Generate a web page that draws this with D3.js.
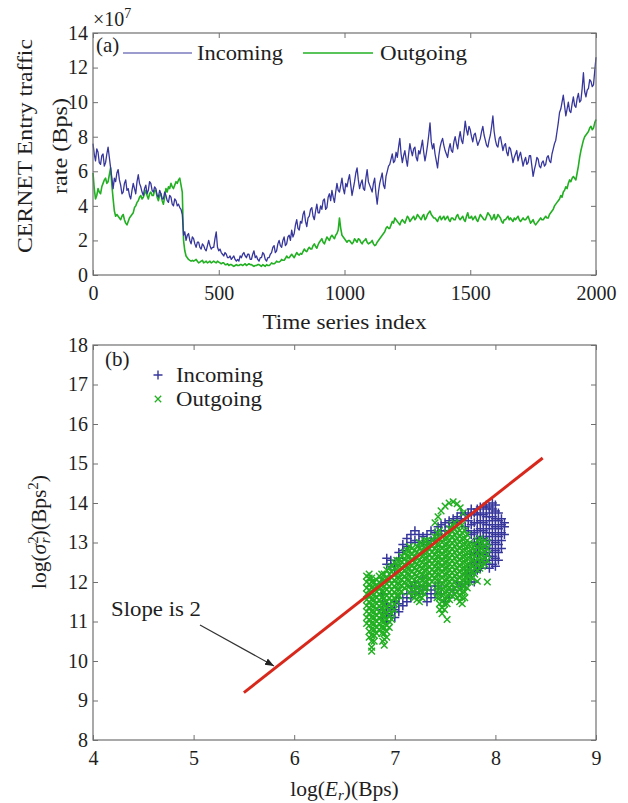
<!DOCTYPE html>
<html><head><meta charset="utf-8">
<script src="https://cdn.jsdelivr.net/npm/d3@7"></script>
</head><body style="margin:0;background:#fff">
<svg id="c" width="628" height="803" style="display:block;font-family:'Liberation Serif'"></svg>
<script>
// ---------------- DATA ----------------
const timeTicks = [0, 500, 1000, 1500, 2000];
const rateTicks = [0, 2, 4, 6, 8, 10, 12, 14];
const timeStep = 5; // one reading every 5 samples
// traffic rate in units of 1e7 Bps
const incomingRate = [
 7.6,7.0,6.6,7.3,7.1,6.5,6.4,6.9,7.0,6.3,6.5,7.0,7.4,6.8,6.2,5.6,5.0,5.6,5.4,5.9,
 6.1,5.5,5.2,4.7,4.8,5.3,5.5,4.9,5.0,4.6,4.4,4.9,5.3,5.0,4.7,5.4,5.8,5.3,5.1,4.8,
 4.6,5.0,5.2,4.7,4.9,5.4,5.3,4.9,4.8,5.1,5.0,4.6,4.5,4.9,4.7,4.4,4.4,4.8,4.6,4.3,
 4.2,4.6,4.5,4.1,4.0,4.4,4.3,4.0,4.1,3.9,3.8,3.5,2.3,2.5,2.0,2.3,2.4,2.0,1.8,2.2,
 2.1,1.8,1.6,1.9,1.9,1.6,1.5,1.8,1.7,1.5,1.4,1.7,2.0,1.7,1.5,1.6,1.6,2.1,2.5,1.6,
 1.4,1.5,1.3,1.2,1.1,1.3,1.2,1.0,1.0,1.1,0.9,1.0,1.1,0.9,0.8,0.9,0.8,1.1,1.0,1.2,
 1.3,1.1,1.0,1.2,1.2,0.9,0.9,1.2,1.4,1.0,1.1,0.9,0.8,1.0,1.0,1.3,1.2,0.9,0.8,1.0,
 1.0,1.2,1.3,1.6,1.7,1.3,1.4,1.8,2.0,1.7,1.6,2.0,2.2,1.7,1.8,2.2,2.3,2.0,2.6,2.2,
 2.4,2.9,3.2,2.7,2.6,3.1,3.0,3.5,3.7,3.1,2.8,3.3,3.4,3.8,3.9,3.4,3.2,3.7,4.1,3.6,
 3.6,4.0,3.8,4.3,4.4,3.8,3.9,4.5,4.7,4.3,4.9,4.5,4.2,4.8,5.3,4.9,4.8,5.2,5.6,5.0,
 4.7,5.3,5.1,5.5,5.8,5.2,4.6,5.0,5.4,5.9,6.2,5.5,5.0,5.3,5.5,5.0,4.9,5.6,6.1,5.4,
 5.2,5.0,4.8,5.3,5.6,4.7,4.1,4.8,5.3,5.6,5.9,5.2,5.0,5.7,6.0,6.3,6.4,6.7,7.0,6.5,
 6.6,7.1,6.8,7.4,7.9,7.0,6.5,6.9,7.2,6.7,6.3,7.0,7.6,7.2,6.9,7.3,7.4,6.8,6.6,7.2,
 7.0,7.4,7.8,7.1,6.6,7.0,7.5,8.1,8.8,7.7,7.3,7.6,7.0,6.6,6.2,6.9,7.4,7.7,7.9,7.5,
 7.2,7.0,6.8,7.3,7.6,7.2,7.1,7.7,8.0,7.6,7.3,7.9,8.3,7.8,7.6,8.2,8.9,8.4,8.1,8.6,
 8.4,8.0,7.7,8.1,8.2,7.8,7.5,7.7,7.9,8.3,8.6,8.1,7.8,7.5,7.4,7.8,8.1,8.6,9.2,8.3,
 7.8,7.5,7.4,7.9,8.0,7.6,7.2,7.5,7.6,7.1,6.9,7.4,7.3,6.9,6.5,6.8,7.0,7.2,6.6,6.9,
 7.1,6.7,6.3,6.6,6.8,6.4,6.5,6.9,6.9,6.3,5.7,6.1,6.4,6.8,6.7,6.3,6.2,6.5,6.6,6.3,
 6.4,6.8,6.9,6.6,6.5,7.0,7.3,7.6,7.8,8.3,8.8,9.4,9.6,10.0,10.4,9.8,9.2,9.6,10.0,9.5,
 9.4,9.9,10.3,9.8,9.7,10.2,10.5,10.0,10.1,10.8,11.7,10.6,10.3,10.7,10.8,11.3,11.2,10.9,11.0,11.8,
 12.6
];
const outgoingRate = [
 5.9,5.0,4.4,4.6,5.0,4.8,4.7,5.1,5.3,5.5,5.6,5.3,5.4,5.8,6.2,5.2,4.4,3.7,3.4,3.5,
 3.4,3.3,3.2,3.4,3.5,3.2,3.0,2.9,3.1,3.3,3.4,3.5,3.6,3.9,4.0,4.2,4.3,4.5,4.6,4.4,
 4.5,4.7,4.9,4.6,4.4,4.7,4.8,4.6,4.6,4.9,4.9,4.5,4.3,4.6,4.7,4.3,4.1,4.5,5.0,4.8,
 5.1,5.0,5.3,5.1,5.0,5.2,5.4,5.3,5.5,5.6,5.2,4.8,2.0,1.4,1.1,1.0,0.9,0.85,0.8,0.85,
 0.8,0.85,0.9,0.8,0.7,0.75,0.8,0.85,0.7,0.75,0.8,0.7,0.75,0.8,0.7,0.75,0.8,0.75,0.7,0.8,
 0.75,0.7,0.65,0.7,0.7,0.6,0.6,0.65,0.55,0.6,0.6,0.55,0.5,0.55,0.6,0.55,0.55,0.6,0.6,0.55,
 0.6,0.65,0.55,0.6,0.65,0.6,0.6,0.55,0.5,0.55,0.55,0.6,0.6,0.55,0.5,0.6,0.55,0.5,0.6,0.55,
 0.55,0.6,0.7,0.65,0.65,0.7,0.8,0.75,0.75,0.8,0.9,0.85,0.85,0.95,1.1,1.0,1.0,1.1,1.2,1.1,
 1.0,1.15,1.3,1.2,1.15,1.25,1.2,1.35,1.5,1.4,1.35,1.5,1.6,1.5,1.5,1.7,1.8,1.65,1.55,1.75,
 1.9,2.0,2.1,1.9,1.8,2.0,2.2,2.1,2.0,2.2,2.3,2.2,2.1,2.3,2.4,2.6,3.3,2.7,2.3,2.2,
 2.1,2.0,1.9,2.0,2.0,1.9,1.8,1.9,2.1,2.0,1.9,2.1,2.05,1.9,1.8,1.95,2.0,2.1,1.9,1.8,
 1.85,1.9,2.0,1.8,1.7,1.75,1.9,2.0,2.1,2.2,2.3,2.4,2.5,2.7,2.8,2.7,2.7,2.9,3.1,3.0,
 3.3,3.2,3.1,3.0,2.9,3.1,3.2,3.1,3.0,3.2,3.4,3.3,3.1,3.2,3.3,3.4,3.2,3.3,3.5,3.4,
 3.3,3.2,3.4,3.5,3.2,3.3,3.5,3.6,3.7,3.5,3.4,3.3,3.3,3.2,3.1,3.3,3.4,3.2,3.3,3.4,
 3.2,3.3,3.4,3.2,3.1,3.3,3.3,3.2,3.2,3.4,3.5,3.3,3.2,3.3,3.4,3.2,3.1,3.4,3.6,3.3,
 3.3,3.4,3.2,3.3,3.4,3.2,3.1,3.3,3.5,3.4,3.3,3.2,3.2,3.4,3.6,3.5,3.4,3.2,3.3,3.5,
 3.2,3.3,3.5,3.4,3.3,3.1,3.0,3.2,3.2,3.3,3.4,3.2,3.3,3.2,3.1,3.3,3.2,3.3,3.4,3.2,
 3.1,3.2,3.3,3.2,3.2,3.3,3.4,3.2,3.0,3.1,3.2,3.0,2.9,3.0,3.1,3.2,3.3,3.2,3.2,3.3,
 3.4,3.3,3.3,3.5,3.6,3.7,3.8,4.0,4.1,4.2,4.3,4.4,4.6,4.5,4.8,4.9,5.1,5.0,5.3,5.5,
 5.4,5.6,5.7,5.6,5.5,5.9,6.3,6.8,7.2,7.5,7.8,8.0,8.1,8.2,8.3,8.5,8.6,8.4,8.5,8.8,
 9.0
];

const logETicks = [4, 5, 6, 7, 8, 9];
const logVarTicks = [8, 9, 10, 11, 12, 13, 14, 15, 16, 17, 18];
// scatter read as vertical streaks: [log(E), [log(var) values...]]
const incomingScatter = [
 [6.88,[11.1,11.3,11.5,11.7,12.0]],
 [6.92,[11.0,11.2,11.45,12.45,12.6]],
 [6.96,[11.15,11.35,12.4,12.55]],
 [7.00,[11.1,11.3,11.5,12.3,12.45]],
 [7.04,[11.25,11.45,11.6,12.6,12.75]],
 [7.08,[11.4,11.6,12.8,12.95]],
 [7.12,[11.5,11.7,12.9,13.1]],
 [7.16,[11.6,11.9,13.0,13.2]],
 [7.20,[11.75,12.0,13.05,13.3]],
 [7.24,[11.7,11.9,13.0,13.2]],
 [7.28,[11.8,12.1,13.0,13.15]],
 [7.32,[11.5,11.7,11.9,12.95,13.2]],
 [7.36,[11.6,11.8,13.05,13.3]],
 [7.40,[11.7,11.9,13.1,13.25]],
 [7.43,[11.9,13.2,13.4]],
 [7.46,[11.7,13.3,13.45]],
 [7.50,[11.5,13.3,13.5]],
 [7.54,[11.6,13.4,13.55]],
 [7.58,[11.8,13.5,13.6]],
 [7.62,[12.0,13.55,13.65]],
 [7.66,[11.9,13.6,13.75]],
 [7.70,[11.95,12.2,13.4,13.7]],
 [7.73,[12.0,12.3,13.3,13.55,13.75]],
 [7.76,[12.2,12.45,12.7,13.2,13.45,13.7,13.85]],
 [7.79,[12.0,12.25,12.5,12.75,13.0,13.25,13.5,13.75]],
 [7.82,[12.3,12.5,12.7,12.9,13.1,13.3,13.5,13.7,13.85]],
 [7.85,[12.35,12.55,12.75,12.95,13.15,13.35,13.55,13.75,13.9]],
 [7.88,[12.5,12.7,12.9,13.1,13.3,13.5,13.7,13.9]],
 [7.91,[12.45,12.65,12.85,13.05,13.25,13.45,13.65,13.85,13.95]],
 [7.94,[12.35,12.55,12.75,12.95,13.15,13.35,13.55,13.75,13.9]],
 [7.97,[12.45,12.65,12.85,13.05,13.25,13.45,13.65,13.85,14.0]],
 [8.00,[12.4,12.6,12.8,13.0,13.2,13.4,13.6,13.8,13.95]],
 [8.03,[12.55,12.75,12.95,13.15,13.35,13.55,13.75]],
 [8.06,[12.85,13.05,13.25,13.45,13.6]],
 [8.09,[13.2,13.4,13.5]]
];
const outgoingScatter = [
 [6.720,[10.95,11.1,11.25,11.4,11.55,11.7,11.85,12.0,12.15]],
 [6.745,[10.6,10.75,10.9,11.05,11.2,11.35,11.5,11.65,11.8,11.95,12.1,12.2]],
 [6.770,[10.35,10.5,10.65,10.8,10.95,11.1,11.25,11.4,11.55,11.7,11.85,12.0,12.1]],
 [6.795,[10.5,10.65,10.8,10.95,11.1,11.25,11.4,11.55,11.7,11.85,12.0]],
 [6.820,[10.7,10.85,11.0,11.15,11.3,11.45,11.6,11.75,11.9,12.05]],
 [6.845,[10.8,10.95,11.1,11.25,11.4,11.55,11.7,11.85,12.0,12.15]],
 [6.870,[10.7,10.85,11.0,11.15,11.3,11.45,11.6,11.75,11.9,12.05,12.2]],
 [6.895,[10.4,10.55,10.7,10.85,11.0,11.15,11.3,11.45,11.6,11.75,11.9,12.05,12.2]],
 [6.920,[10.6,10.75,10.9,11.05,11.2,11.35,11.5,11.65,11.8,11.95,12.1,12.3]],
 [6.945,[10.85,11.0,11.15,11.3,11.45,11.6,11.75,11.9,12.05,12.2,12.35]],
 [6.970,[11.05,11.2,11.35,11.5,11.65,11.8,11.95,12.1,12.25,12.4]],
 [6.995,[11.3,11.45,11.6,11.75,11.9,12.05,12.2,12.35,12.5]],
 [7.020,[11.5,11.65,11.8,11.95,12.1,12.25,12.4,12.55]],
 [7.045,[11.65,11.8,11.95,12.1,12.25,12.4,12.55]],
 [7.070,[11.75,11.9,12.05,12.2,12.35,12.5,12.65]],
 [7.095,[11.85,12.0,12.15,12.3,12.45,12.6,12.75]],
 [7.120,[11.9,12.05,12.2,12.35,12.5,12.65,12.8]],
 [7.145,[11.75,11.9,12.05,12.2,12.35,12.5,12.65,12.8,12.9]],
 [7.170,[11.65,11.8,11.95,12.1,12.25,12.4,12.55,12.7,12.85]],
 [7.195,[11.6,11.75,11.9,12.05,12.2,12.35,12.5,12.65,12.8]],
 [7.220,[11.55,11.7,11.85,12.0,12.15,12.3,12.45,12.6,12.75,12.9]],
 [7.245,[11.5,11.65,11.8,11.95,12.1,12.25,12.4,12.55,12.7,12.85,13.0]],
 [7.270,[11.6,11.75,11.9,12.05,12.2,12.35,12.5,12.65,12.8,12.95]],
 [7.295,[11.7,11.85,12.0,12.15,12.3,12.45,12.6,12.75,12.9,13.05]],
 [7.320,[11.85,12.0,12.15,12.3,12.45,12.6,12.75,12.9,13.05]],
 [7.345,[11.95,12.1,12.25,12.4,12.55,12.7,12.85,13.0]],
 [7.370,[12.0,12.15,12.3,12.45,12.6,12.75,12.9,13.05]],
 [7.395,[12.1,12.25,12.4,12.55,12.7,12.85,13.0,13.15]],
 [7.420,[11.6,11.75,11.9,12.05,12.2,12.35,12.5,12.65,12.8,12.95,13.1,13.25]],
 [7.445,[11.3,11.45,11.6,11.75,11.9,12.05,12.2,12.35,12.5,12.65,12.8,12.95,13.1,13.3]],
 [7.470,[11.2,11.35,11.5,11.65,11.8,11.95,12.1,12.25,12.4,12.55,12.7,12.85,13.0,13.15]],
 [7.495,[11.3,11.45,11.6,11.75,11.9,12.05,12.2,12.35,12.5,12.65,12.8,12.95,13.1]],
 [7.520,[11.45,11.6,11.75,11.9,12.05,12.2,12.35,12.5,12.65,12.8,12.95,13.1,13.25]],
 [7.545,[11.55,11.7,11.85,12.0,12.15,12.3,12.45,12.6,12.75,12.9,13.05,13.2,13.35]],
 [7.570,[11.65,11.8,11.95,12.1,12.25,12.4,12.55,12.7,12.85,13.0,13.15,13.3,13.45]],
 [7.595,[11.7,11.85,12.0,12.15,12.3,12.45,12.6,12.75,12.9,13.05,13.2,13.35,13.5]],
 [7.620,[11.6,11.75,11.9,12.05,12.2,12.35,12.5,12.65,12.8,12.95,13.1,13.25,13.4]],
 [7.645,[11.5,11.65,11.8,11.95,12.1,12.25,12.4,12.55,12.7,12.85,13.0,13.15,13.3,13.5]],
 [7.670,[11.45,11.6,11.75,11.9,12.05,12.2,12.35,12.5,12.65,12.8,12.95,13.1,13.25,13.45]],
 [7.695,[11.6,11.75,11.9,12.05,12.2,12.35,12.5,12.65,12.8,12.95,13.1,13.3]],
 [7.720,[11.85,12.0,12.15,12.3,12.45,12.6,12.75,12.9,13.05,13.2]],
 [7.745,[12.0,12.15,12.3,12.45,12.6,12.75,12.9,13.0]],
 [7.770,[12.1,12.25,12.4,12.55,12.7,12.85]],
 [7.795,[12.2,12.35,12.5,12.65,12.8,12.95]],
 [7.820,[12.3,12.45,12.6,12.75,12.9,13.05]],
 [7.845,[12.35,12.5,12.65,12.8,12.95,13.1]],
 [7.870,[12.4,12.55,12.7,12.85,13.0]],
 [7.895,[12.45,12.6,12.75,12.9,13.05]],
 [7.920,[12.55,12.7,12.85,13.0]]
];
const outgoingSingles = [
 [7.40,13.5],[7.43,13.65],[7.46,13.8],[7.50,13.92],[7.54,14.0],[7.58,14.03],[7.62,13.98],[7.65,13.88],[7.68,13.75],
 [7.52,11.05],[7.82,12.02],[7.92,12.0],[6.77,10.25],[6.88,10.5]
];
const slopeLine = [[5.5, 9.2], [8.47, 15.14]];

// ---------------- STYLE ----------------
const FONT = "'Liberation Serif'";
const TXT = "#1e1e1e";
const blue = "#36369c", green = "#22b022", red = "#d8281c", frameCol = "#707070";
const svg = d3.select("#c");

function label(sel, size) {
  return sel.style("font-family", FONT).style("font-size", size + "px").attr("fill", TXT);
}
// stretch Liberation Serif text to the width the Computer Modern text occupies
function fit(sel, w) {
  return sel.attr("textLength", w).attr("lengthAdjust", "spacingAndGlyphs");
}

function frameAxes(g, x, y, xt, yt, w, h) {
  g.append("rect").attr("x",0).attr("y",0).attr("width",w).attr("height",h)
    .attr("fill","none").attr("stroke",frameCol).attr("stroke-width",1.2);
  const styleAx = s => { s.attr("font-family",null).attr("font-size",null);
    s.select(".domain").remove();
    s.selectAll(".tick line").attr("stroke",frameCol);
    s.selectAll(".tick text").call(label, 20); };
  const fmt = d3.format("d");
  g.append("g").attr("transform",`translate(0,${h})`)
    .call(d3.axisBottom(x).tickValues(xt).tickFormat(fmt).tickSize(-5).tickPadding(11)).call(styleAx);
  g.append("g").call(d3.axisLeft(y).tickValues(yt).tickFormat(fmt).tickSize(-5).tickPadding(5)).call(styleAx);
  g.append("g").call(d3.axisTop(x).tickValues(xt).tickSize(-5).tickFormat("")).call(styleAx);
  g.append("g").attr("transform",`translate(${w},0)`)
    .call(d3.axisRight(y).tickValues(yt).tickSize(-5).tickFormat("")).call(styleAx);
}

// ---------------- PANEL (a) ----------------
const A = {l:93, t:33, w:503, h:242};
const ga = svg.append("g").attr("transform",`translate(${A.l},${A.t})`);
const xa = d3.scaleLinear().domain([0,2000]).range([0,A.w]);
const ya = d3.scaleLinear().domain([0,14]).range([A.h,0]);
const lineA = d3.line().x((d,i)=>xa(i*timeStep)).y(d=>ya(d));
ga.append("path").datum(outgoingRate).attr("d",lineA).attr("fill","none")
  .attr("stroke",green).attr("stroke-width",1.6).attr("stroke-linejoin","round");
ga.append("path").datum(incomingRate).attr("d",lineA).attr("fill","none")
  .attr("stroke",blue).attr("stroke-width",1.3).attr("stroke-linejoin","round");
frameAxes(ga, xa, ya, timeTicks, rateTicks, A.w, A.h);

// legend (a)
ga.append("text").attr("x",3).attr("y",19).call(label,21).text("(a)");
ga.append("line").attr("x1",30).attr("x2",99).attr("y1",20).attr("y2",20).attr("stroke","#7b7bbf").attr("stroke-width",1.3);
ga.append("text").attr("x",104).attr("y",27).call(label,21).call(fit,86).text("Incoming");
ga.append("line").attr("x1",210).attr("x2",280).attr("y1",20).attr("y2",20).attr("stroke",green).attr("stroke-width",1.6);
ga.append("text").attr("x",287).attr("y",27).call(label,21).call(fit,87).text("Outgoing");

// exponent
const ex = svg.append("text").attr("x",93).attr("y",26).call(label,20);
ex.append("tspan").text("×10");
ex.append("tspan").attr("dy",-8).style("font-size","14px").text("7");

svg.append("text").attr("x",A.l+A.w/2).attr("y",329).attr("text-anchor","middle").call(label,21).call(fit,164).text("Time series index");
svg.append("text").attr("transform",`translate(32,146) rotate(-90)`).attr("text-anchor","middle")
  .call(label,21).call(fit,214).text("CERNET Entry traffic");
svg.append("text").attr("transform",`translate(67,146) rotate(-90)`).attr("text-anchor","middle")
  .call(label,21).call(fit,96).text("rate (Bps)");

// ---------------- PANEL (b) ----------------
const B = {l:93, t:345, w:503, h:395};
const gb = svg.append("g").attr("transform",`translate(${B.l},${B.t})`);
const xb = d3.scaleLinear().domain([4,9]).range([0,B.w]);
const yb = d3.scaleLinear().domain([8,18]).range([B.h,0]);

const plusPts = incomingScatter.flatMap(([x,ys]) => ys.map(y => [x,y]));
const crossPts = outgoingScatter.flatMap(([x,ys]) => ys.map(y => [x,y])).concat(outgoingSingles);
const plusPath = (cx,cy,r) => `M${cx-r},${cy}H${cx+r}M${cx},${cy-r}V${cy+r}`;
const crossPath = (cx,cy,r) => `M${cx-r},${cy-r}L${cx+r},${cy+r}M${cx-r},${cy+r}L${cx+r},${cy-r}`;

gb.append("g").selectAll("path").data(plusPts).join("path")
  .attr("d", d => plusPath(xb(d[0]), yb(d[1]), 4.5))
  .attr("stroke", blue).attr("stroke-width",1.5).attr("fill","none");
gb.append("g").selectAll("path").data(crossPts).join("path")
  .attr("d", d => crossPath(xb(d[0]), yb(d[1]), 3.3))
  .attr("stroke", green).attr("stroke-width",1.45).attr("fill","none");

gb.append("path").datum(slopeLine).attr("d", d3.line().x(d=>xb(d[0])).y(d=>yb(d[1])))
  .attr("stroke",red).attr("stroke-width",3).attr("fill","none");

frameAxes(gb, xb, yb, logETicks, logVarTicks, B.w, B.h);

// legend (b)
gb.append("text").attr("x",12).attr("y",21).call(label,21).text("(b)");
gb.append("path").attr("d",plusPath(65,30,4.5)).attr("stroke",blue).attr("stroke-width",1.4);
gb.append("text").attr("x",83).attr("y",37).call(label,21).call(fit,87).text("Incoming");
gb.append("path").attr("d",crossPath(65,54,3.2)).attr("stroke",green).attr("stroke-width",1.3);
gb.append("text").attr("x",83).attr("y",61).call(label,21).call(fit,86).text("Outgoing");

// annotation
svg.append("defs").append("marker").attr("id","ah").attr("viewBox","0 0 10 10")
  .attr("refX",10).attr("refY",5).attr("markerWidth",9).attr("markerHeight",9)
  .attr("markerUnits","userSpaceOnUse").attr("orient","auto")
  .append("path").attr("d","M0,1L10,5L0,9Z").attr("fill","#222");
svg.append("line").attr("x1",200).attr("y1",625).attr("x2",274).attr("y2",666)
  .attr("stroke","#333").attr("stroke-width",1.2).attr("marker-end","url(#ah)");
svg.append("text").attr("x",111).attr("y",616).call(label,21).call(fit,90).text("Slope is 2");

// axis labels (b)
const xlb = svg.append("text").attr("x",B.l+B.w/2).attr("y",796).attr("text-anchor","middle").call(label,21.5);
xlb.append("tspan").text("log(");
xlb.append("tspan").style("font-style","italic").text("E");
xlb.append("tspan").attr("dy",4).style("font-size","15px").style("font-style","italic").text("r");
xlb.append("tspan").attr("dy",-4).text(")(Bps)");

const ylb = svg.append("text").attr("transform",`translate(46,532) rotate(-90)`).attr("text-anchor","middle").call(label,21.5);
ylb.append("tspan").text("log(");
ylb.append("tspan").style("font-style","italic").text("σ");
ylb.append("tspan").attr("dy",-8).style("font-size","15px").text("2");
ylb.append("tspan").attr("dx",-7).attr("dy",12).style("font-size","15px").style("font-style","italic").text("r");
ylb.append("tspan").attr("dy",-4).text(")(Bps");
ylb.append("tspan").attr("dy",-8).style("font-size","15px").text("2");
ylb.append("tspan").attr("dy",8).text(")");
</script>
</body></html>
